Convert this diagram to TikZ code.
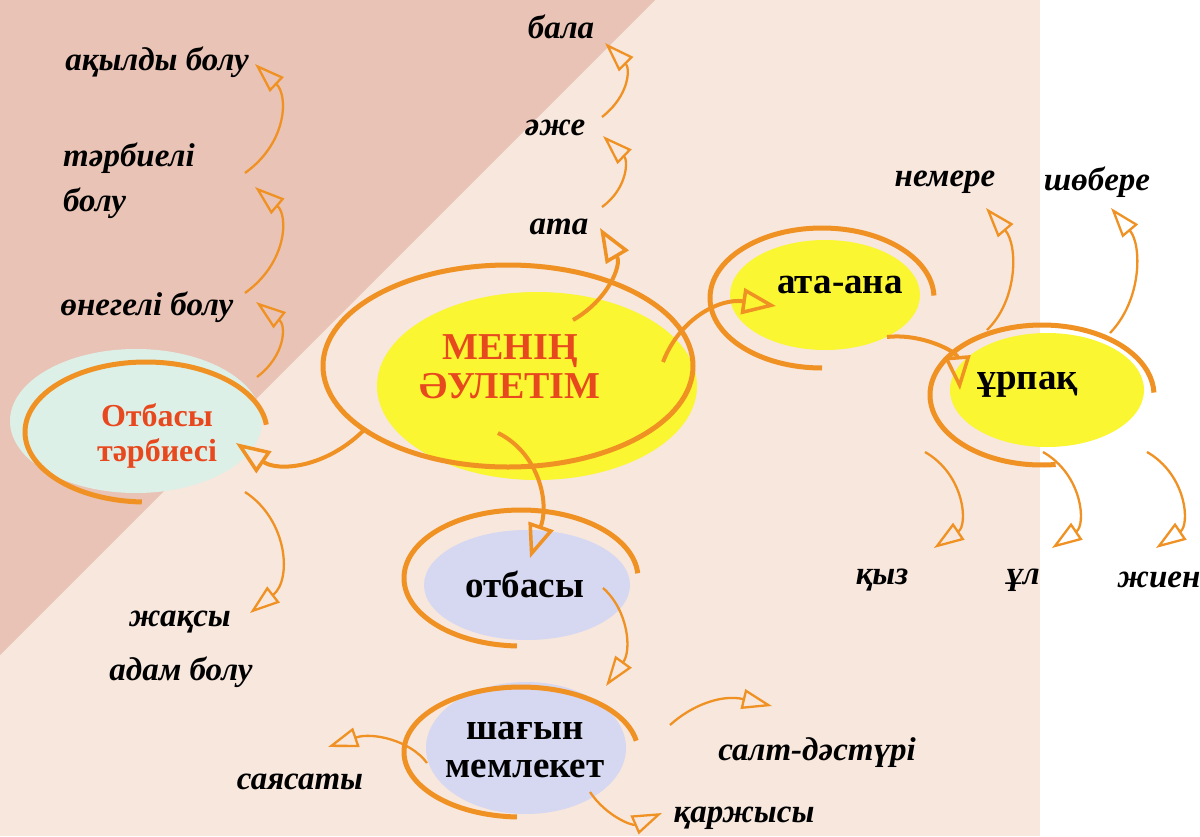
\documentclass[tikz,border=0pt]{standalone}
\usepackage{fontspec}
\setmainfont{Liberation Serif}
\usetikzlibrary{arrows.meta}
\definecolor{pinkbg}{RGB}{233,195,181}
\definecolor{beigebg}{RGB}{247,231,221}
\definecolor{org}{RGB}{240,145,35}
\definecolor{yel}{RGB}{250,246,50}
\definecolor{mint}{RGB}{221,240,232}
\definecolor{lav}{RGB}{214,215,240}
\definecolor{redt}{RGB}{232,72,30}
\tikzset{
  ring/.style={draw=org, line width=5pt},
  thickarr/.style={draw=org, line width=4pt, -{Triangle[open,length=34pt,width=26pt,line width=3.5pt]}},
  thinarr/.style={draw=org, line width=2.3pt, -{Triangle[open,length=30pt,width=20pt,line width=2.3pt]}},
  lbl/.style={font=\fontsize{33}{45}\selectfont\bfseries\itshape, text=black, inner sep=0pt},
  boldtxt/.style={font=\fontsize{37}{38}\selectfont\bfseries, text=black, inner sep=0pt, align=center},
  redtxt/.style={font=\fontsize{38}{39}\selectfont\bfseries, text=redt, inner sep=0pt, align=center},
}
\begin{document}
\begin{tikzpicture}[x=1pt,y=-1pt]
\useasboundingbox (0,0) rectangle (1200,836);
% background
\fill[beigebg] (0,0) rectangle (1200,836);
\fill[pinkbg] (0,0) -- (655,0) -- (0,655) -- cycle;
\fill[white] (1040,0) rectangle (1200,836);
% fills
\fill[mint] (136,421) ellipse[x radius=126, y radius=72];
\fill[yel] (537,386) ellipse[x radius=160, y radius=94];
\fill[yel] (825,295) ellipse[x radius=95, y radius=55];
\fill[yel] (1047,390) ellipse[x radius=97, y radius=57];
\fill[lav] (527,585) ellipse[x radius=103, y radius=55];
\fill[lav] (526,748) ellipse[x radius=100, y radius=66];
% rings
\draw[ring] (508,366) ellipse[x radius=185, y radius=101];
\draw[ring] (146,432) ++(92:121 and 70) arc[start angle=92, end angle=354, x radius=121, y radius=70];
\draw[ring] (521,578) ++(92:117 and 68) arc[start angle=92, end angle=356, x radius=117, y radius=68];
\draw[ring] (521,752) ++(92:117 and 65) arc[start angle=92, end angle=350, x radius=117, y radius=65];
\draw[ring] (822,298) ++(90:112 and 70) arc[start angle=90, end angle=358, x radius=112, y radius=70];
\draw[ring] (1042,395) ++(83:112 and 70) arc[start angle=83, end angle=358, x radius=112, y radius=70];
% main nodes
\node[redtxt] (men) at (510,367) {МЕНІҢ\\ӘУЛЕТІМ};
\node[redtxt, font=\fontsize{32}{35}\selectfont\bfseries] (otar) at (157,436) {Отбасы\\тәрбиесі};
\node[boldtxt] (atana) at (840,285) {ата-ана};
\node[boldtxt] (otb) at (525,584) {отбасы};
\node[boldtxt] (shag) at (525,750) {шағын\\мемлекет};
\node[boldtxt] (urp) at (1028,385) {ұрпақ};
% labels
\node[lbl] (bala) at (561,27) {бала};
\node[lbl] (azhe) at (555,128) {әже};
\node[lbl] (ata) at (559,227) {ата};
\node[lbl] (akyl) at (157,62) {ақылды болу};
\node[lbl, align=left, anchor=west] (tarb) at (63,181) {тәрбиелі\\болу};
\node[lbl] (oneg) at (147,307) {өнегелі болу};
\node[lbl] (zhaksy) at (180,622) {жақсы};
\node[lbl] (adam) at (181,672) {адам болу};
\node[lbl] (sayas) at (300,782) {саясаты};
\node[lbl] (salt) at (817,753) {салт-дәстүрі};
\node[lbl] (karzh) at (744,818) {қаржысы};
\node[lbl] (nemere) at (945,182) {немере};
\node[lbl] (shob) at (1097,182) {шөбере};
\node[lbl] (kyz) at (882,580) {қыз};
\node[lbl] (ul) at (1023,580) {ұл};
\node[lbl] (zhien) at (1159,580) {жиен};
% connector end points
\coordinate (c1) at (363,431); \coordinate (t1) at (236,443);
\coordinate (c2) at (573,320); \coordinate (t2) at (600,228);
\coordinate (c3) at (663,362); \coordinate (t3) at (776,306);
\coordinate (c4) at (498,433); \coordinate (t4) at (530,558);
\coordinate (c5) at (887,337); \coordinate (t5) at (960,390);
\coordinate (a1) at (602,207); \coordinate (a2) at (603,136);
\coordinate (b1) at (602,117); \coordinate (b2) at (605,43);
\coordinate (l1) at (257,377); \coordinate (l2) at (256,302);
\coordinate (l3) at (245,293); \coordinate (l4) at (255,187);
\coordinate (l5) at (245,173); \coordinate (l6) at (255,64);
\coordinate (d1) at (245,492); \coordinate (d2) at (250,613);
\coordinate (o1) at (603,588); \coordinate (o2) at (606,686);
\coordinate (s1) at (427,763); \coordinate (s2) at (328,747);
\coordinate (s3) at (670,725); \coordinate (s4) at (772,706);
\coordinate (s5) at (590,792); \coordinate (s6) at (662,813);
\coordinate (u1) at (987,330); \coordinate (u2) at (986,208);
\coordinate (u3) at (1110,333); \coordinate (u4) at (1111,208);
\coordinate (k1) at (925,452); \coordinate (k2) at (934,548);
\coordinate (k3) at (1043,452); \coordinate (k4) at (1052,548);
\coordinate (k5) at (1147,452); \coordinate (k6) at (1156,548);
% thick connectors
\draw[thickarr] (c1) .. controls (325,468) and (278,472) .. (t1);
\draw[thickarr] (c2) .. controls (608,300) and (622,265) .. (t2);
\draw[thickarr] (c3) .. controls (680,318) and (720,298) .. (t3);
\draw[thickarr] (c4) .. controls (537,452) and (550,500) .. (t4);
\draw[thickarr] (c5) .. controls (922,333) and (957,352) .. (t5);
% thin connectors
\draw[thinarr] (a1) .. controls (628,188) and (628,160) .. (a2);
\draw[thinarr] (b1) .. controls (630,95) and (630,68) .. (b2);
\draw[thinarr] (l1) .. controls (286,355) and (286,325) .. (l2);
\draw[thinarr] (l3) .. controls (288,262) and (288,215) .. (l4);
\draw[thinarr] (l5) .. controls (288,142) and (288,95) .. (l6);
\draw[thinarr] (d1) .. controls (288,520) and (292,580) .. (d2);
\draw[thinarr] (o1) .. controls (628,610) and (632,650) .. (o2);
\draw[thinarr] (s1) .. controls (410,740) and (372,732) .. (s2);
\draw[thinarr] (s3) .. controls (692,705) and (722,694) .. (s4);
\draw[thinarr] (s5) .. controls (606,816) and (632,826) .. (s6);
\draw[thinarr] (u1) .. controls (1018,300) and (1018,245) .. (u2);
\draw[thinarr] (u3) .. controls (1142,300) and (1142,245) .. (u4);
\draw[thinarr] (k1) .. controls (965,475) and (968,525) .. (k2);
\draw[thinarr] (k3) .. controls (1083,475) and (1086,525) .. (k4);
\draw[thinarr] (k5) .. controls (1187,475) and (1190,525) .. (k6);
\end{tikzpicture}
\end{document}
